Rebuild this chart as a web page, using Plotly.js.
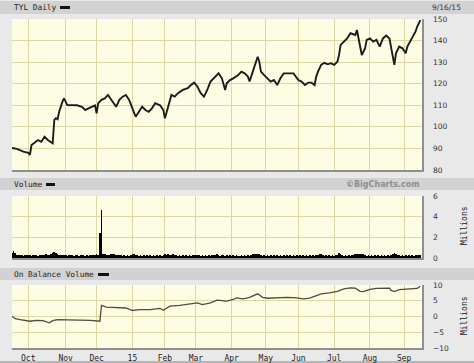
<!DOCTYPE html>
<html><head><meta charset="utf-8">
<script src="https://cdn.plot.ly/plotly-3.0.1.min.js"></script>
<style>html,body{margin:0;padding:0;background:#e9e9e9;}#chart{width:474px;height:363px;}</style>
</head><body><div id="chart"></div>
<script>
// Trading-day index (0 = 9/17/14, 251 = 9/16/15)
const monthTickDays = [10, 33, 52, 74, 94, 113, 135, 156, 176, 198, 220, 241];
const monthTickText = ['Oct','Nov','Dec','15','Feb','Mar','Apr','May','Jun','Jul','Aug','Sep'];

const priceDay = [0,3,7,10,11,12,14,16,18,20,22,24,25,26,27,28,29,31,32,34,37,40,43,45,47,49,51,52,53,55,57,59,61,63,64,66,68,70,72,74,76,78,80,82,84,86,88,91,93,94,96,98,100,102,105,108,110,112,114,116,118,120,122,124,126,127,129,131,132,134,136,139,141,143,145,146,148,149,151,152,153,155,157,159,161,163,165,167,170,173,176,178,180,182,184,186,187,188,190,192,194,196,198,200,201,202,204,206,208,211,212,214,215,217,218,220,222,224,226,228,230,232,233,235,236,238,240,242,243,246,248,249,251];
const priceClose = [90.2,89.8,88.5,88.0,87.0,91.6,92.7,93.9,93.1,95.4,93.9,93.1,92.4,103.2,104.0,103.5,107.0,111.7,113.2,110.1,110.0,110.0,109.3,107.8,108.6,109.3,110.0,106.3,111.0,112.5,113.2,114.8,112.5,110.0,109.3,112.5,114.0,114.8,112.5,108.6,104.7,107.0,109.3,107.8,107.0,108.6,111.0,110.0,107.8,104.0,109.3,114.8,114.0,115.6,117.1,117.9,119.4,120.5,118.6,115.6,114.0,117.1,121.0,122.5,124.0,124.8,122.5,117.1,120.2,121.7,122.5,124.0,125.6,124.8,123.3,121.0,125.6,127.9,132.5,130.2,125.6,124.0,122.5,121.0,121.7,119.4,122.5,124.8,124.8,124.8,121.7,121.0,119.4,120.5,120.5,119.4,123.3,125.5,128.7,129.7,129.0,129.5,128.7,130.2,133.3,138.0,139.5,141.0,143.4,142.6,144.9,138.0,133.3,136.4,140.3,141.0,139.5,140.3,137.2,141.0,142.3,141.0,136.4,128.7,134.1,137.2,136.4,134.1,137.2,141.0,144.1,146.4,149.5];

// Daily volume, millions
const volume = [
0.45,0.7,0.5,0.3,0.25,0.3,0.25,0.2,0.25,0.3,
0.25,0.3,0.2,0.25,0.3,0.25,0.2,0.25,0.3,0.25,
0.3,0.35,0.3,0.3,0.35,0.45,0.55,0.5,0.4,0.3,
0.3,0.25,0.3,0.25,0.2,0.25,0.3,0.25,0.2,0.25,
0.25,0.2,0.25,0.3,0.25,0.2,0.25,0.2,0.25,0.3,
0.25,0.3,0.35,0.3,2.4,4.6,0.4,0.35,0.3,0.25,
0.3,0.35,0.35,0.35,0.3,0.25,0.3,0.25,0.2,0.25,
0.2,0.25,0.2,0.25,0.35,0.35,0.3,0.25,0.2,0.25,
0.2,0.25,0.2,0.25,0.2,0.25,0.2,0.25,0.2,0.25,
0.2,0.25,0.2,0.3,0.35,0.3,0.35,0.3,0.3,0.35,
0.3,0.25,0.2,0.25,0.2,0.25,0.2,0.25,0.2,0.25,
0.2,0.3,0.3,0.3,0.3,0.25,0.2,0.25,0.2,0.25,
0.2,0.25,0.2,0.25,0.3,0.3,0.35,0.25,0.2,0.25,
0.25,0.2,0.25,0.2,0.25,0.2,0.25,0.2,0.25,0.2,
0.2,0.25,0.2,0.25,0.2,0.25,0.2,0.3,0.35,0.4,
0.4,0.4,0.35,0.25,0.2,0.25,0.2,0.25,0.2,0.25,
0.2,0.25,0.2,0.25,0.2,0.25,0.2,0.25,0.2,0.25,
0.2,0.25,0.2,0.25,0.2,0.25,0.2,0.25,0.2,0.25,
0.2,0.25,0.2,0.25,0.2,0.25,0.2,0.25,0.3,0.35,
0.35,0.3,0.2,0.25,0.2,0.25,0.2,0.25,0.2,0.25,
0.3,0.45,0.35,0.25,0.2,0.25,0.2,0.25,0.2,0.25,
0.25,0.35,0.4,0.35,0.4,0.35,0.35,0.25,0.2,0.25,
0.2,0.25,0.2,0.25,0.2,0.25,0.2,0.25,0.2,0.25,
0.2,0.25,0.2,0.3,0.35,0.45,0.35,0.3,0.25,0.2,
0.25,0.2,0.25,0.2,0.25,0.2,0.25,0.2,0.25,0.3,
0.25,0.3];
const volumeDay = volume.map((v, i) => i);

// On Balance Volume, millions
const obvDay = [0,2,5,9,11,15,19,23,25,28,34,42,48,54,55,58,64,70,74,78,85,91,93,97,103,109,114,117,122,126,132,136,138,142,146,151,154,157,161,169,175,179,183,187,190,195,200,204,208,211,214,216,220,224,229,232,233,235,238,245,249,251];
const obvVal = [0.1,-0.7,-1.0,-1.3,-1.5,-1.2,-1.3,-2.0,-1.3,-1.0,-1.0,-1.1,-1.2,-1.5,3.5,3.0,2.8,2.7,1.9,2.2,2.2,2.6,2.0,3.3,3.5,4.0,4.3,3.8,4.3,5.2,4.9,5.4,5.9,5.6,6.1,7.2,6.1,5.8,5.9,6.1,5.9,5.6,5.8,6.5,7.2,7.5,8.0,8.8,9.1,9.0,8.0,7.9,8.6,8.9,8.9,9.0,8.3,7.9,8.5,8.7,8.9,9.6];

const W = 474, H = 363, L = 12, R = 52;
const px = x => (x - L) / (W - L - R);
const py = y => 1 - y / H;

const gridC = '#dcd8a6', axC = '#8f8f8f', bg = '#fdfde3', hdr = '#d2d2d2';
const mono = 'DejaVu Sans Mono', sans = 'DejaVu Sans';

const traces = [
  {type:'scatter', mode:'lines', x: priceDay, y: priceClose, xaxis:'x', yaxis:'y',
   line:{color:'#1c1c1c', width:1.9}, hoverinfo:'skip'},
  {type:'bar', x: volumeDay, y: volume, xaxis:'x2', yaxis:'y2', width:1,
   marker:{color:'#000', line:{width:0}}, hoverinfo:'skip'},
  {type:'scatter', mode:'lines', x: obvDay, y: obvVal, xaxis:'x3', yaxis:'y3',
   line:{color:'#4e4b40', width:1.3}, hoverinfo:'skip'}
];

const xBase = {range:[0,252], tickvals: monthTickDays, ticktext: monthTickText,
  showgrid:true, gridcolor:gridC, gridwidth:1, zeroline:false, showline:true,
  linecolor:axC, linewidth:1.5, ticks:'', fixedrange:true};
const yBase = {side:'right', showgrid:true, gridcolor:gridC, gridwidth:1, zeroline:false,
  showline:true, linecolor:axC, linewidth:1.5, ticks:'', ticklabelstandoff:8,
  tickfont:{family:sans, size:7.5, color:'#333'}, fixedrange:true};

const layout = {
  width: W, height: H, margin:{l:L, r:R, t:0, b:0, pad:0},
  paper_bgcolor:'#e9e9e9', plot_bgcolor: bg, showlegend:false, bargap:0,
  xaxis: Object.assign({}, xBase, {anchor:'y', showticklabels:false}),
  xaxis2: Object.assign({}, xBase, {anchor:'y2', matches:'x', showticklabels:false}),
  xaxis3: Object.assign({}, xBase, {anchor:'y3', matches:'x', showticklabels:true,
    tickfont:{family:mono, size:8, color:'#222'}, ticklabelstandoff:2}),
  yaxis: Object.assign({}, yBase, {domain:[py(170), py(19)], range:[80,150], dtick:10, tick0:80, anchor:'x'}),
  yaxis2: Object.assign({}, yBase, {domain:[py(258), py(196)], range:[0,6], dtick:2, tick0:0, anchor:'x2'}),
  yaxis3: Object.assign({}, yBase, {domain:[py(348), py(285)], range:[-10,10], dtick:5, tick0:-10, anchor:'x3'}),
  shapes: [
    {type:'rect', xref:'paper', yref:'paper', x0:px(0), x1:px(474), y0:py(14), y1:py(1), fillcolor:hdr, line:{width:0}, layer:'below'},
    {type:'rect', xref:'paper', yref:'paper', x0:px(0), x1:px(474), y0:py(190), y1:py(178), fillcolor:hdr, line:{width:0}, layer:'below'},
    {type:'rect', xref:'paper', yref:'paper', x0:px(0), x1:px(474), y0:py(280), y1:py(268), fillcolor:hdr, line:{width:0}, layer:'below'},
    {type:'rect', xref:'paper', yref:'paper', x0:px(0), x1:px(474), y0:py(363), y1:py(361), fillcolor:'#b5b5b5', line:{width:0}, layer:'below'},
    {type:'rect', xref:'paper', yref:'paper', x0:px(60), x1:px(70), y0:py(9), y1:py(6), fillcolor:'#111', line:{width:0}},
    {type:'rect', xref:'paper', yref:'paper', x0:px(46), x1:px(55), y0:py(186), y1:py(183), fillcolor:'#111', line:{width:0}},
    {type:'rect', xref:'paper', yref:'paper', x0:px(98), x1:px(109), y0:py(276), y1:py(273), fillcolor:'#111', line:{width:0}}
  ],
  annotations: [
    {text:'TYL Daily', xref:'paper', yref:'paper', x:px(12), y:py(7.5), xanchor:'left', yanchor:'middle', showarrow:false, font:{family:mono, size:7.8, color:'#222'}},
    {text:'9/16/15', xref:'paper', yref:'paper', x:px(430), y:py(7.5), xanchor:'left', yanchor:'middle', showarrow:false, font:{family:sans, size:7.5, color:'#333'}},
    {text:'Volume', xref:'paper', yref:'paper', x:px(12), y:py(184.5), xanchor:'left', yanchor:'middle', showarrow:false, font:{family:mono, size:7.8, color:'#222'}},
    {text:'<b>©BigCharts.com</b>', xref:'paper', yref:'paper', x:px(422), y:py(184.5), xanchor:'right', yanchor:'middle', showarrow:false, font:{family:sans, size:8, color:'#8e8e8e'}},
    {text:'On Balance Volume', xref:'paper', yref:'paper', x:px(12), y:py(274.5), xanchor:'left', yanchor:'middle', showarrow:false, font:{family:mono, size:7.8, color:'#222'}},
    {text:'Millions', xref:'paper', yref:'paper', x:px(464), y:py(226), xanchor:'center', yanchor:'middle', textangle:-90, showarrow:false, font:{family:mono, size:8, color:'#222'}},
    {text:'Millions', xref:'paper', yref:'paper', x:px(464), y:py(316), xanchor:'center', yanchor:'middle', textangle:-90, showarrow:false, font:{family:mono, size:8, color:'#222'}}
  ]
};

Plotly.newPlot('chart', traces, layout, {staticPlot:true, displayModeBar:false});
</script>
</body></html>
